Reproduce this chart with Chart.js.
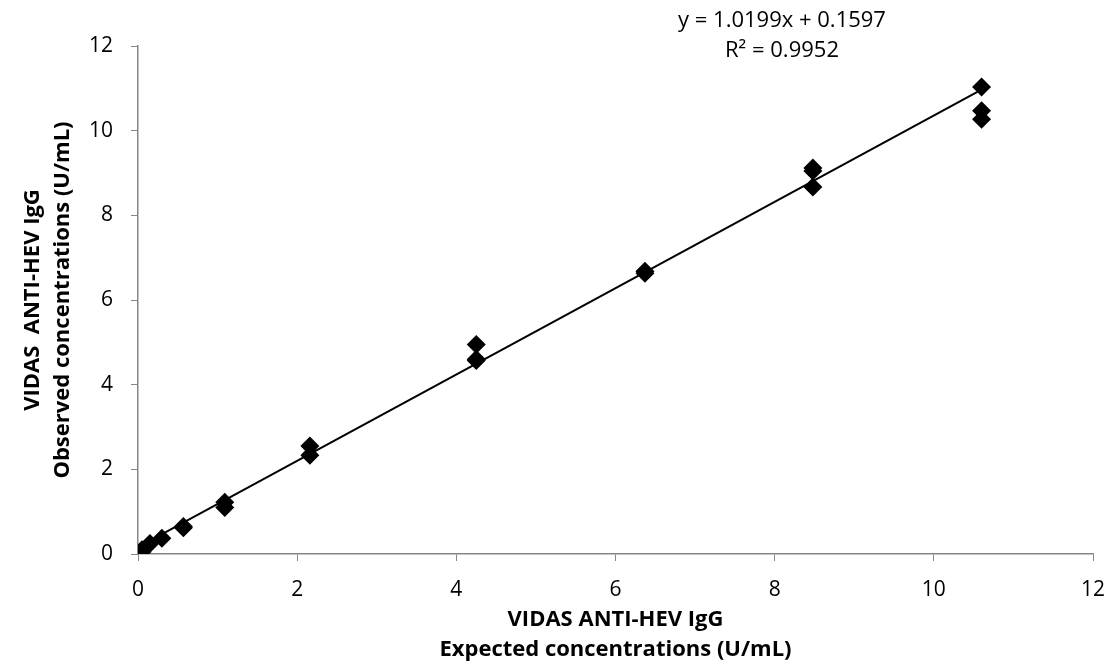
<!DOCTYPE html>
<html>
<head>
<meta charset="utf-8">
<script src="https://cdn.jsdelivr.net/npm/chart.js@4"></script>
<style>
  html,body{margin:0;padding:0;background:#fff;}
  #wrap{width:1112px;height:669px;position:relative;}
</style>
</head>
<body>
<div id="wrap"><canvas id="c"></canvas></div>
<script>
// expected (x) vs observed (y) concentrations, U/mL
const expected = [0.03,0.05,0.05,0.15,0.3,0.57,0.57,1.09,1.09,2.16,2.16,4.25,4.25,4.25,6.37,6.37,8.48,8.48,8.48,10.6,10.6,10.6];
const observed = [0.03,0.05,0.1,0.25,0.37,0.65,0.62,1.22,1.1,2.55,2.33,4.95,4.6,4.57,6.68,6.63,9.12,9.05,8.67,11.03,10.47,10.27];
const slope = 1.0199, intercept = 0.1597;
const eqText = ['y = 1.0199x + 0.1597', 'R\u00b2 = 0.9952'];
const xTitle = ['VIDAS ANTI-HEV IgG', 'Expected concentrations (U/mL)'];
const yTitle = ['VIDAS  ANTI-HEV IgG', 'Observed concentrations (U/mL)'];

const pts = expected.map((x,i)=>({x:x, y:observed[i]}));
const xmin = Math.min(...expected), xmax = Math.max(...expected);
const trend = [{x:xmin, y:slope*xmin+intercept}, {x:xmax, y:slope*xmax+intercept}];

const FONT = '"Open Sans", Lato, sans-serif';
const axisGray = '#868686';

// equation label over the trendline
const eqPlugin = {
  id:'eq',
  afterDraw(chart){
    const ctx = chart.ctx;
    ctx.save();
    ctx.fillStyle = '#000';
    ctx.font = '22px ' + FONT;
    ctx.textAlign = 'center';
    ctx.textBaseline = 'middle';
    ctx.fillText(eqText[0], 782, 21);
    ctx.fillText(eqText[1], 782, 51);
    ctx.restore();
  }
};

new Chart(document.getElementById('c'), {
  type:'scatter',
  data:{
    datasets:[
      {type:'line', data:trend, borderColor:'#000', borderWidth:2, pointRadius:0, fill:false, order:2},
      {data:pts, pointStyle:'rectRot', pointRadius:9.5, pointHoverRadius:9.5, backgroundColor:'#000', borderColor:'#000', borderWidth:0, order:1}
    ]
  },
  options:{
    responsive:true,
    maintainAspectRatio:false,
    animation:false,
    layout:{padding:{top:46, right:19, left:0, bottom:0}},
    plugins:{legend:{display:false}, tooltip:{enabled:false}},
    scales:{
      x:{
        type:'linear', min:0, max:12,
        ticks:{stepSize:2, color:'#000', font:{size:21, family:FONT}, padding:16, maxRotation:0},
        grid:{drawOnChartArea:false, drawTicks:true, tickLength:7, color:axisGray},
        border:{color:axisGray, width:1.5},
        title:{display:true, text:xTitle, color:'#000', font:{size:22, weight:'bold', family:FONT, lineHeight:1.36}, padding:{bottom:4}},
        afterFit(s){ s.height = 115; s.paddingLeft = 0; s.paddingRight = 0; }
      },
      y:{
        type:'linear', min:0, max:12,
        ticks:{stepSize:2, color:'#000', font:{size:21, family:FONT}, padding:18},
        grid:{drawOnChartArea:false, drawTicks:true, tickLength:7, color:axisGray},
        border:{color:axisGray, width:1.5},
        title:{display:true, text:yTitle, color:'#000', font:{size:22, weight:'bold', family:FONT, lineHeight:1.36}, padding:{top:18}},
        afterFit(s){ s.width = 138; s.paddingTop = 0; s.paddingBottom = 0; }
      }
    }
  },
  plugins:[eqPlugin]
});
</script>
</body>
</html>
